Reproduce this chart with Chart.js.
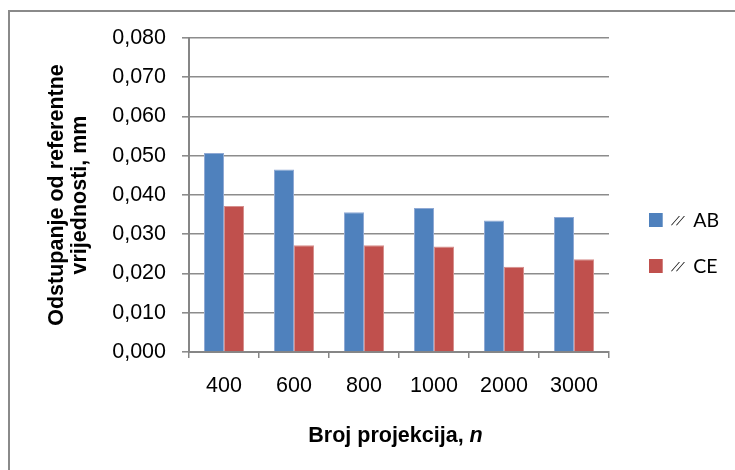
<!DOCTYPE html>
<html>
<head>
<meta charset="utf-8">
<script src="https://cdn.jsdelivr.net/npm/chart.js@4/dist/chart.umd.min.js"></script>
<style>
  html, body { margin: 0; padding: 0; background: #fff; overflow: hidden; }
  body { width: 735px; height: 470px; position: relative; }
  #frame {
    position: absolute; left: 8px; top: 10px; width: 760px; height: 500px;
    border: 2px solid #8a8a8a; box-sizing: border-box;
  }
  #wrap { position: absolute; left: 0; top: 0; width: 735px; height: 470px; }
</style>
</head>
<body>
<div id="frame"></div>
<div id="wrap"><canvas id="chart" width="735" height="470"></canvas></div>
<script>
// Number of projections per scan
const categories = ['400', '600', '800', '1000', '2000', '3000'];

// Deviation from the reference value, mm
const seriesAB = [0.0507, 0.0465, 0.0356, 0.0367, 0.0335, 0.0344];
const seriesCE = [0.0372, 0.0272, 0.0272, 0.0269, 0.0217, 0.0236];
const seriesNames = ['AB', 'CE'];
const seriesColors = ['#4F81BD', '#C0504D'];
const seriesEdges = ['#8FA9D4', '#D68F8D'];

// Value axis
const yMin = 0;
const yMax = 0.08;
const yStep = 0.01;
const yTickLabels = ['0,000', '0,010', '0,020', '0,030', '0,040', '0,050', '0,060', '0,070', '0,080'];

const yTitleLines = ['Odstupanje od referentne', 'vrijednosti, mm'];
const xTitleMain = 'Broj projekcija, ';
const xTitleVar = 'n';

const AXIS_GREY = '#868686';
const GRID_GREY = '#8c8c8c';
const SANS = '"Liberation Sans", Arial, sans-serif';

// Legend at the right: box, parallel mark, series name
const sideLegend = {
  id: 'sideLegend',
  afterDraw(chart) {
    const ctx = chart.ctx;
    const x0 = chart.chartArea.right + 40;
    ctx.save();
    chart.data.datasets.forEach((ds, i) => {
      const cy = 220 + i * 46;
      ctx.fillStyle = ds.backgroundColor;
      ctx.fillRect(x0, cy - 7, 13.7, 14);
      ctx.fillStyle = '#000';
      ctx.textBaseline = 'alphabetic';
      ctx.textAlign = 'left';
      // slanted double stroke (parallel sign)
      ctx.save();
      ctx.translate(x0 + 22, cy + 4.5);
      ctx.transform(1, 0, -0.6, 1, 0, 0);
      ctx.font = '12.5px ' + SANS;
      ctx.fillText('/', 0, 0);
      ctx.fillText('/', 5, 0);
      ctx.restore();
      ctx.textBaseline = 'middle';
      ctx.font = '19.5px Lato, ' + SANS;
      ctx.fillText(ds.label, x0 + 44.3, cy + 1);
    });
    ctx.restore();
  }
};

// Category axis title with the italic variable
const xTitle = {
  id: 'xTitle',
  afterDraw(chart) {
    const ctx = chart.ctx;
    const a = chart.chartArea;
    const fMain = 'bold 21.5px ' + SANS;
    const fVar = 'italic bold 21.5px ' + SANS;
    ctx.save();
    ctx.font = fMain;
    const w1 = ctx.measureText(xTitleMain).width;
    ctx.font = fVar;
    const w2 = ctx.measureText(xTitleVar).width;
    const x = (a.left + a.right) / 2 - 3.5 - (w1 + w2) / 2;
    const y = 436;
    ctx.fillStyle = '#000';
    ctx.textBaseline = 'middle';
    ctx.textAlign = 'left';
    ctx.font = fMain;
    ctx.fillText(xTitleMain, x, y);
    ctx.font = fVar;
    ctx.fillText(xTitleVar, x + w1, y);
    ctx.restore();
  }
};

new Chart(document.getElementById('chart'), {
  type: 'bar',
  data: {
    labels: categories,
    datasets: [
      { label: seriesNames[0], data: seriesAB, backgroundColor: seriesColors[0], borderColor: seriesEdges[0], borderWidth: 1 },
      { label: seriesNames[1], data: seriesCE, backgroundColor: seriesColors[1], borderColor: seriesEdges[1], borderWidth: 1 }
    ]
  },
  plugins: [sideLegend, xTitle],
  options: {
    responsive: false,
    animation: false,
    layout: { padding: { left: 0, top: 38, right: 126, bottom: 0 } },
    datasets: { bar: { categoryPercentage: 0.5714, barPercentage: 1.0 } },
    plugins: {
      legend: { display: false },
      tooltip: { enabled: false }
    },
    scales: {
      x: {
        offset: true,
        afterFit(scale) { scale.height = 118; },
        grid: { display: true, drawOnChartArea: false, drawTicks: true, tickLength: 6, color: AXIS_GREY, lineWidth: 1.5, offset: true },
        border: { display: true, color: AXIS_GREY, width: 2 },
        ticks: {
          color: '#000', padding: 15, maxRotation: 0,
          font: { family: SANS, size: 21.5 }
        }
      },
      y: {
        min: yMin, max: yMax,
        afterFit(scale) { scale.width = 189; },
        grid: { color: GRID_GREY, lineWidth: 1.6, drawTicks: true, tickLength: 7 },
        border: { display: true, color: AXIS_GREY, width: 2 },
        ticks: {
          stepSize: yStep, color: '#000', padding: 16,
          font: { family: SANS, size: 21.5 },
          callback: (v, i) => yTickLabels[i]
        },
        title: {
          display: true, text: yTitleLines, color: '#000',
          padding: { top: 45, bottom: 0 },
          font: { family: SANS, size: 21.5, weight: 'bold', lineHeight: 1.1 }
        }
      }
    }
  }
});
</script>
</body>
</html>
